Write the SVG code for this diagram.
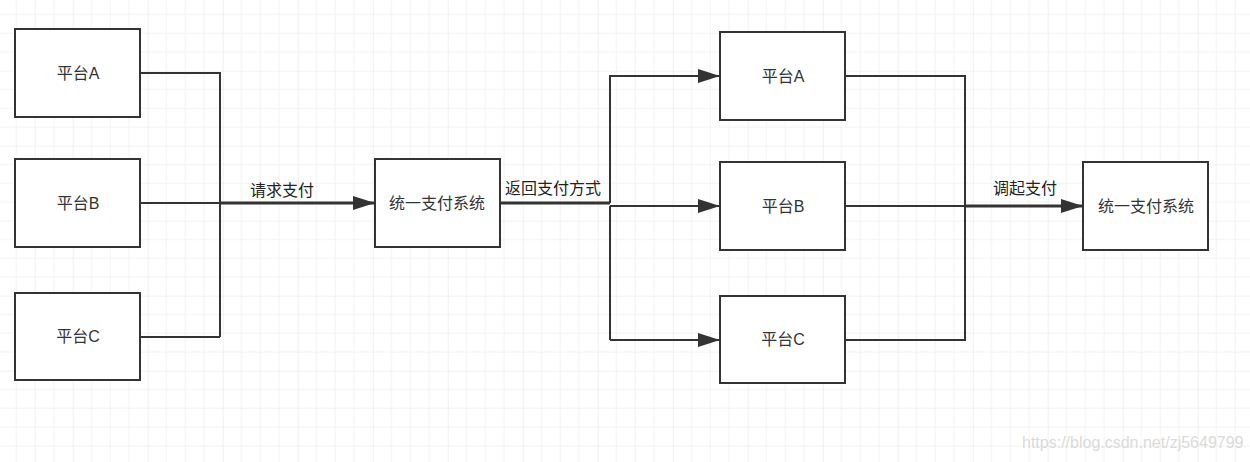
<svg xmlns="http://www.w3.org/2000/svg" width="1250" height="462" viewBox="0 0 1250 462">
<defs>
<pattern id="grid" x="-2.3" y="-4.3" width="75" height="75" patternUnits="userSpaceOnUse">
<path d="M18.75 0V75M37.5 0V75M56.25 0V75M0 18.75H75M0 37.5H75M0 56.25H75" stroke="#f2f2f2" stroke-width="1" fill="none"/>
<path d="M0 0V75M0 0H75" stroke="#e6e6e6" stroke-width="1.2" fill="none"/>
</pattern>
<marker id="arr" markerUnits="userSpaceOnUse" markerWidth="22" markerHeight="14" refX="22" refY="7" orient="auto">
<path d="M0 0L22 7L0 14Z" fill="#333"/>
</marker>
</defs>
<style>
.box{fill:#fff;stroke:#333;stroke-width:2}
.t{font-family:"Liberation Sans","Noto Sans CJK SC",sans-serif;font-size:16px;fill:#333;text-anchor:middle}
.lbl{font-family:"Liberation Sans","Noto Sans CJK SC",sans-serif;font-size:16px;fill:#222}
.ln{fill:none;stroke:#333;stroke-width:2}
.thick{fill:none;stroke:#333;stroke-width:3}
</style>
<rect width="1250" height="462" fill="#fff"/>
<rect width="1250" height="462" fill="url(#grid)"/>
<g id="connectors">
<path class="ln" d="M141 73H220V337"/>
<path class="ln" d="M141 203H220"/>
<path class="ln" d="M141 337H220"/>
<path class="thick" d="M220 203H375" marker-end="url(#arr)"/>
<text class="lbl" x="250" y="196">请求支付</text>
<path class="thick" d="M501 203H610"/>
<path class="ln" d="M610 206V340"/>
<path class="ln" d="M610 203V76H720" marker-end="url(#arr)"/>
<path class="ln" d="M610 206H720" marker-end="url(#arr)"/>
<path class="ln" d="M610 340H720" marker-end="url(#arr)"/>
<text class="lbl" x="505" y="194">返回支付方式</text>
<path class="ln" d="M846 76H965V340H846"/>
<path class="ln" d="M846 206H965"/>
<path class="thick" d="M965 206H1083" marker-end="url(#arr)"/>
<text class="lbl" x="993" y="194">调起支付</text>
</g>
<g id="leftA"><rect class="box" x="15" y="29" width="125" height="88"/><text class="t" x="78" y="79">平台A</text></g>
<g id="leftB"><rect class="box" x="15" y="159" width="125" height="88"/><text class="t" x="78" y="209">平台B</text></g>
<g id="leftC"><rect class="box" x="15" y="293" width="125" height="87"/><text class="t" x="78" y="342">平台C</text></g>
<g id="center"><rect class="box" x="375" y="159" width="125" height="88"/><text class="t" x="437" y="209">统一支付系统</text></g>
<g id="rightA"><rect class="box" x="720" y="32" width="125" height="88"/><text class="t" x="783" y="82">平台A</text></g>
<g id="rightB"><rect class="box" x="720" y="162" width="125" height="88"/><text class="t" x="783" y="212">平台B</text></g>
<g id="rightC"><rect class="box" x="720" y="296" width="125" height="87"/><text class="t" x="783" y="345">平台C</text></g>
<g id="final"><rect class="box" x="1083" y="162" width="125" height="88"/><text class="t" x="1146" y="212">统一支付系统</text></g>
<text x="1022" y="448" font-family="Liberation Sans, sans-serif" font-size="16" fill="#dadada">https://blog.csdn.net/zj5649799</text>
</svg>
